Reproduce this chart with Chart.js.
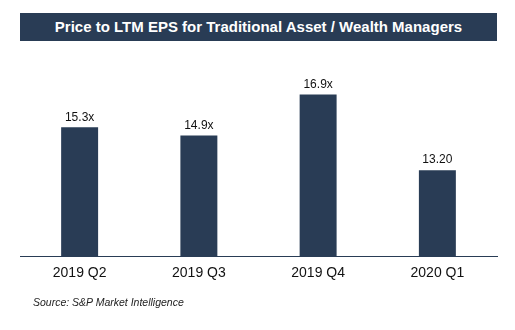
<!DOCTYPE html>
<html>
<head>
<meta charset="utf-8">
<script src="https://cdn.jsdelivr.net/npm/chart.js@4.4.1/dist/chart.umd.min.js"></script>
<style>
  html, body { margin: 0; padding: 0; background: #fff; }
  #wrap { position: relative; width: 515px; height: 330px; overflow: hidden; }
  #chart { position: absolute; left: 0; top: 0; }
  #title {
    position: absolute; left: 20px; top: 13px; width: 477px; height: 28px;
    background: #293C55; color: #fff; font: bold 15px "Liberation Sans", Arial, sans-serif;
    line-height: 28px; text-align: center; white-space: nowrap;
  }
  #source {
    position: absolute; left: 33px; top: 296px;
    font: italic 10.5px "Liberation Sans", Arial, sans-serif; color: #222; white-space: nowrap;
  }
</style>
</head>
<body>
<div id="wrap">
  <canvas id="chart" width="515" height="330"></canvas>
  <div id="title">Price to LTM EPS for Traditional Asset / Wealth Managers</div>
  <div id="source">Source: S&amp;P Market Intelligence</div>
</div>
<script>
const categories = ["2019 Q2", "2019 Q3", "2019 Q4", "2020 Q1"];
const peValues = [15.3, 14.9, 16.9, 13.2];
const valueLabels = ["15.3x", "14.9x", "16.9x", "13.20"];

const NAVY = "#293C55";

const labelPlugin = {
  id: "valueLabels",
  afterDatasetsDraw(chart) {
    const ctx = chart.ctx;
    const meta = chart.getDatasetMeta(0);
    ctx.save();
    ctx.font = '12px "Liberation Sans", Arial, sans-serif';
    ctx.fillStyle = "#111";
    ctx.textAlign = "center";
    ctx.textBaseline = "bottom";
    meta.data.forEach((bar, i) => {
      ctx.fillText(valueLabels[i], bar.x, bar.y - 4);
    });
    ctx.restore();
  }
};

new Chart(document.getElementById("chart"), {
  type: "bar",
  data: {
    labels: categories,
    datasets: [{
      data: peValues,
      backgroundColor: NAVY,
      borderWidth: 0,
      barPercentage: 0.31,
      categoryPercentage: 1.0
    }]
  },
  options: {
    responsive: false,
    animation: false,
    layout: { padding: { left: 20, right: 18, top: 72, bottom: 0 } },
    plugins: { legend: { display: false }, tooltip: { enabled: false }, title: { display: false } },
    scales: {
      x: {
        grid: { display: false, drawTicks: false },
        border: { display: true, color: NAVY, width: 1 },
        afterFit(scale) { scale.height = 74; },
        ticks: {
          color: "#111",
          padding: 9,
          font: { family: '"Liberation Sans", Arial, sans-serif', size: 14 }
        }
      },
      y: {
        display: false,
        min: 9,
        max: 18
      }
    }
  },
  plugins: [labelPlugin]
});
</script>
</body>
</html>
